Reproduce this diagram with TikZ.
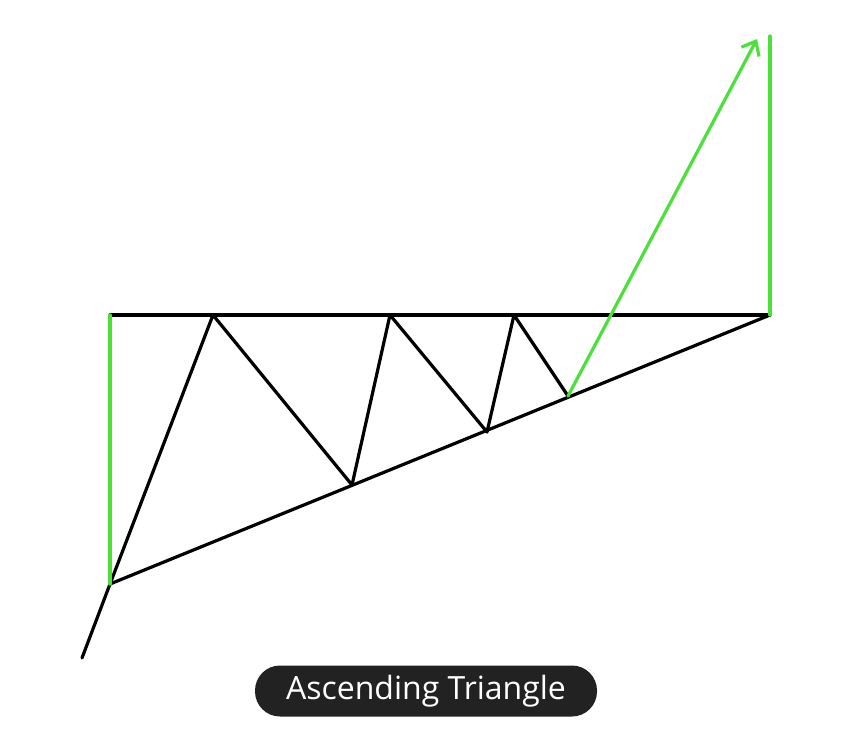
\documentclass[tikz,border=0pt]{standalone}
\usepackage{fontspec}
\setmainfont{Open Sans}
\usetikzlibrary{arrows.meta}
\definecolor{trendgreen}{RGB}{76,224,58}
\definecolor{labelbg}{RGB}{34,34,34}
\tikzset{
  blk/.style={line width=3.2pt, black, line cap=round, line join=round},
  grn/.style={line width=3.2pt, trendgreen, line cap=round, line join=round},
  tag/.style={fill=labelbg, rounded corners=25pt, minimum width=342pt, minimum height=51pt, inner sep=0pt, text=white, font=\fontsize{32}{34}\selectfont}
}
\begin{document}
\begin{tikzpicture}[x=1pt,y=-1pt]
\useasboundingbox (0,0) rectangle (852,744);
\coordinate (s0) at (82,658);
\coordinate (a) at (110,584);
\coordinate (tl) at (110,315);
\coordinate (tr) at (770,315);
\coordinate (p1) at (213,315);
\coordinate (v1) at (352,485);
\coordinate (p2) at (390,315);
\coordinate (v2) at (487,432);
\coordinate (p3) at (514,315);
\coordinate (v3) at (568,396);
\coordinate (tip) at (757,39);
\coordinate (rt) at (770,36);
\draw[blk] (s0) -- (a);
\draw[blk] (tl) -- (tr);
\draw[blk] (a) -- (tr);
\draw[blk] (a) -- (p1) -- (v1) -- (p2) -- (v2) -- (p3) -- (v3);
\draw[grn] (tl) -- (a);
\draw[grn] (tr) -- (rt);
\draw[grn, -{Straight Barb[length=12pt,width=20pt,line width=3.2pt]}] (v3) -- (tip);
\node[tag] (label) at (426,691) {Ascending Triangle};
\end{tikzpicture}
\end{document}
